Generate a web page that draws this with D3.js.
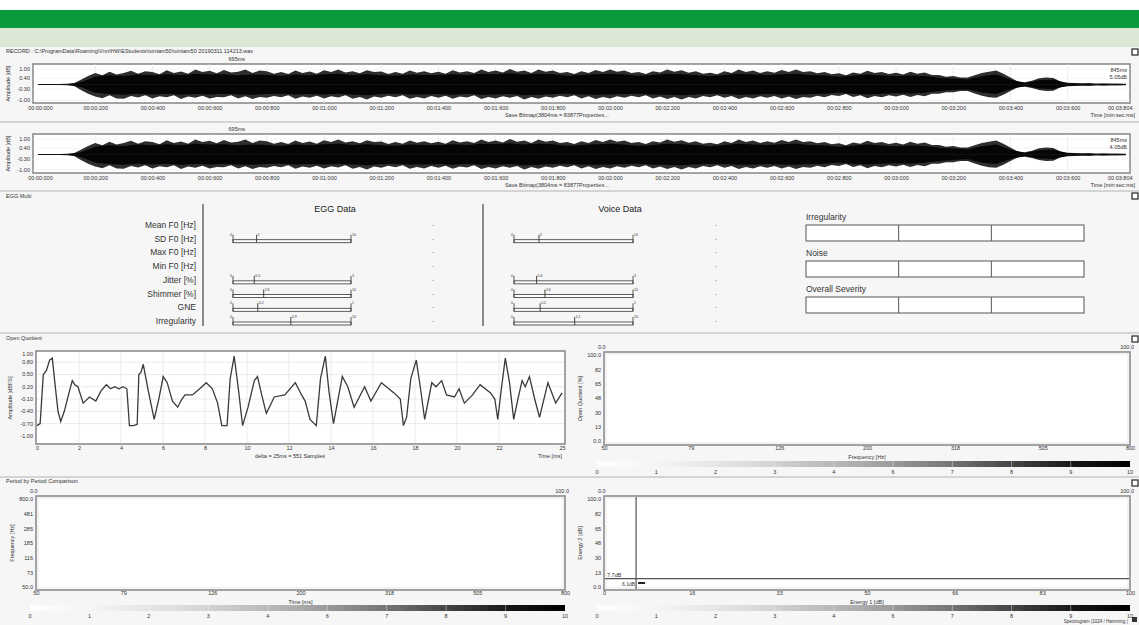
<!DOCTYPE html>
<html><head><meta charset="utf-8">
<script src="https://cdn.jsdelivr.net/npm/d3@7"></script>
<style>
body{margin:0;background:#fff;}
svg{display:block;font-family:"Liberation Sans",Arial,sans-serif;}
</style></head><body>
<svg id="c" width="1139" height="625"></svg>
<script>
// ---------------- DATA ----------------
// waveform envelope, sampled every 25 ms (last sample at 3804 ms)
const waveTimes = d3.range(0, 3801, 25).concat([3804]);
const waveUpper = [0.04,0.03,0.04,0.03,0.05,0.08,
0.3,0.55,0.75,0.6,0.82,0.65,0.74,0.88,0.7,0.85,0.8,0.66,0.92,0.75,0.84,0.7,0.97,0.8,0.88,0.72,0.93,0.78,0.82,0.96,0.75,0.9,0.86,0.7,0.8,0.68,0.9,0.74,0.84,0.7,
0.92,0.8,0.97,0.78,0.86,0.72,0.92,0.8,0.84,0.68,0.8,0.7,0.9,0.76,0.86,0.72,0.82,0.7,0.92,0.78,0.86,0.74,0.97,0.8,0.9,0.78,1.0,0.82,0.9,0.75,0.96,0.82,0.9,0.74,0.8,0.68,0.86,0.74,0.93,0.8,
0.97,0.82,0.9,0.74,0.8,0.68,0.86,0.78,0.96,0.82,0.92,0.76,0.86,0.7,0.76,0.66,0.86,0.74,0.96,0.8,0.9,0.74,0.86,0.76,0.93,0.8,0.96,0.8,0.86,0.72,0.8,0.66,0.72,0.6,0.78,0.7,0.88,0.74,0.8,0.68,
0.76,0.64,0.82,0.7,0.78,0.62,0.62,0.5,0.55,0.45,0.45,0.6,0.75,0.82,0.9,0.7,0.45,0.2,0.15,0.25,0.4,0.45,0.42,0.2,0.12,0.1,0.08,0.09,0.07,0.08,0.06,0.07,0.05,0.05];
const waveLower = [-0.04,-0.03,-0.04,-0.03,-0.05,-0.08,
-0.35,-0.6,-0.78,-0.88,-0.7,-0.9,-0.92,-0.74,-0.84,-0.7,-0.9,-0.76,-0.82,-0.7,-0.93,-0.78,-0.86,-0.72,-0.9,-0.8,-0.82,-0.7,-0.9,-0.76,-0.94,-0.8,-0.86,-0.74,-0.82,-0.7,-0.92,-0.78,-0.86,-0.72,
-0.9,-0.76,-0.84,-0.7,-0.92,-0.8,-0.96,-0.78,-0.86,-0.72,-0.82,-0.7,-0.92,-0.8,-0.9,-0.74,-0.86,-0.72,-0.92,-0.78,-0.84,-0.7,-0.93,-0.8,-0.9,-0.76,-0.86,-0.74,-0.96,-0.8,-0.92,-0.78,-0.86,-0.72,-0.82,-0.7,-0.9,-0.76,-0.93,-0.8,
-0.9,-0.76,-0.86,-0.72,-0.82,-0.7,-0.9,-0.78,-0.93,-0.8,-0.96,-0.8,-0.9,-0.74,-0.82,-0.7,-0.86,-0.74,-0.93,-0.8,-0.9,-0.76,-0.86,-0.74,-0.9,-0.78,-0.93,-0.8,-0.86,-0.72,-0.82,-0.68,-0.74,-0.62,-0.8,-0.7,-0.88,-0.74,-0.82,-0.7,
-0.78,-0.66,-0.8,-0.68,-0.75,-0.6,-0.6,-0.5,-0.5,-0.42,-0.42,-0.58,-0.72,-0.82,-0.86,-0.66,-0.42,-0.18,-0.15,-0.22,-0.36,-0.42,-0.4,-0.18,-0.12,-0.1,-0.08,-0.09,-0.07,-0.08,-0.06,-0.07,-0.05,-0.05];
// dense dark core of the waveform, sampled every 50 ms
const coreTimes = [0,50,100,150,200,250,300,350,400,450,500,550,600,650,700,750,800,850,900,950,1000,1050,1100,1150,1200,1250,1300,1350,1400,1450,1500,1550,1600,1650,1700,1750,1800,1850,1900,1950,2000,2050,2100,2150,2200,2250,2300,2350,2400,2450,2500,2550,2600,2650,2700,2750,2800,2850,2900,2950,3000,3050,3100,3150,3200,3250,3300,3350,3400,3450,3500,3550,3600,3650,3700,3750,3800,3804];
const coreUpper = [0.02,0.02,0.02,0.14,0.5,0.6,0.55,0.64,0.6,0.66,0.6,0.7,0.64,0.66,0.6,0.65,0.62,0.56,0.64,0.6,0.66,0.7,0.62,0.66,0.6,0.56,0.64,0.62,0.6,0.66,0.62,0.7,0.66,0.72,0.64,0.7,0.66,0.56,0.62,0.66,0.7,0.64,0.56,0.62,0.7,0.66,0.62,0.54,0.62,0.7,0.64,0.62,0.66,0.7,0.62,0.58,0.5,0.56,0.64,0.58,0.54,0.58,0.55,0.44,0.38,0.32,0.54,0.64,0.32,0.1,0.27,0.3,0.08,0.05,0.04,0.04,0.03,0.03];
const coreLower = [-0.02,-0.02,-0.02,-0.16,-0.54,-0.62,-0.66,-0.6,-0.64,-0.6,-0.66,-0.62,-0.64,-0.6,-0.64,-0.66,-0.62,-0.6,-0.64,-0.62,-0.64,-0.6,-0.64,-0.7,-0.62,-0.6,-0.64,-0.64,-0.62,-0.66,-0.6,-0.66,-0.64,-0.62,-0.7,-0.66,-0.62,-0.6,-0.64,-0.66,-0.64,-0.62,-0.6,-0.64,-0.66,-0.7,-0.64,-0.6,-0.62,-0.66,-0.64,-0.62,-0.64,-0.66,-0.62,-0.6,-0.52,-0.6,-0.64,-0.6,-0.56,-0.58,-0.54,-0.42,-0.36,-0.3,-0.52,-0.62,-0.3,-0.1,-0.26,-0.29,-0.08,-0.05,-0.04,-0.04,-0.03,-0.03];
const waveTicks = [0,200,400,600,800,1000,1200,1400,1600,1800,2000,2200,2400,2600,2800,3000,3200,3400,3600,3804];
const ampTicks = [1.00,0.40,-0.30,-1.00];
const waveInfo = [{marker:"695ms", end:"845ms", db:"5.05dB"},{marker:"695ms", end:"845ms", db:"4.05dB"}];

const eggRows = ["Mean F0 [Hz]","SD F0 [Hz]","Max F0 [Hz]","Min F0 [Hz]","Jitter [%]","Shimmer [%]","GNE","Irregularity"];
const eggBarMax = [null,"10",null,null,"3","10","1","10"];
const eggMarker = [null,0.20,null,null,0.18,0.26,0.21,0.49];
const eggMarkerLabel = [null,"2",null,null,"0.5","2.6","0.2","4.9"];
const voiceMarker = [null,0.21,null,null,0.19,0.26,0.22,0.51];
const voiceMarkerLabel = [null,"2",null,null,"0.6","2.6","0.2","5.1"];
const gradeBoxes = ["Irregularity","Noise","Overall Severity"];

const oqT = [0,0.15,0.3,0.45,0.6,0.73,0.85,1.0,1.13,1.3,1.5,1.68,1.8,1.95,2.2,2.5,2.8,3.05,3.3,3.5,3.7,3.9,4.1,4.28,4.4,4.6,4.77,4.85,4.95,5.06,5.3,5.58,5.8,6.01,6.2,6.45,6.7,6.9,7.05,7.4,7.75,8.06,8.35,8.6,8.8,9.05,9.2,9.39,9.6,9.79,10.05,10.35,10.5,10.7,10.92,11.3,11.8,12.3,12.6,12.77,13.0,13.3,13.5,13.73,13.9,14.12,14.3,14.54,14.8,15.1,15.6,15.9,16.4,17.0,17.3,17.45,17.6,17.8,18.06,18.25,18.46,18.8,19.0,19.27,19.5,19.88,20.1,20.35,20.74,21.1,21.6,21.8,21.94,22.1,22.3,22.5,22.7,22.9,23.1,23.25,23.45,23.7,23.93,24.33,24.7,25];
const oqA = [-0.75,-0.7,0.5,0.6,0.85,0.9,0.3,-0.4,-0.65,-0.4,0.0,0.35,0.25,0.2,-0.2,-0.05,-0.15,0.1,0.25,0.15,0.2,0.15,0.2,0.15,-0.75,-0.75,-0.72,0.5,0.55,0.75,0.1,-0.6,-0.1,0.45,0.3,-0.15,-0.3,-0.1,0.0,0.0,0.15,0.3,0.15,-0.2,-0.75,-0.75,0.4,0.95,0.1,-0.75,-0.3,0.35,0.45,0.0,-0.45,-0.05,0.0,0.3,0.0,-0.15,-0.6,-0.75,0.4,0.95,0.1,-0.7,-0.2,0.45,0.2,-0.3,0.2,-0.15,0.3,0.05,-0.1,-0.75,-0.55,0.4,0.85,0.2,-0.6,0.3,0.2,0.35,0.0,-0.05,0.15,-0.2,0.0,0.25,0.05,-0.1,-0.6,0.1,0.9,0.3,-0.6,-0.1,0.35,0.2,0.45,-0.1,-0.55,0.3,-0.2,0.05];
const oqXTicks = [0,2,4,6,8,10,12,14,16,18,20,22,25];
const oqYTicks = [1.00,0.80,0.50,0.20,-0.10,-0.40,-0.70,-1.00];

const freqTicks = [50,79,126,200,318,505,800];
const pctTicks = [0,16.7,33.3,50,66.7,83.3,100];
const pctTickLabels = ["0.0","13","30","48","65","82","100.0"];
const periodYTickLabels = ["50.0","73","116","185","285","481","800.0"];
const energyXTickLabels = ["0","16","33","50","66","83","100"];
const colorbarLabels = ["0","1","2","3","4","6","7","8","9","10"];
const energy1Marker = [6.1];
const energy2Marker = [7.7];

// ---------------- DRAW ----------------
const svg = d3.select("#c");
const FONT = "Liberation Sans, Arial, sans-serif";
svg.append("rect").attr("width",1139).attr("height",625).attr("fill","#f6f6f6");
svg.append("rect").attr("width",1139).attr("height",10).attr("fill","#ffffff");
svg.append("rect").attr("y",10).attr("width",1139).attr("height",18).attr("fill","#0a9a3c");
svg.append("rect").attr("y",28).attr("width",1139).attr("height",19).attr("fill","#dce8d6");

function txt(x,y,s,size,anchor,fill,weight){
  return svg.append("text").attr("x",x).attr("y",y).text(s)
    .attr("font-size",size).attr("text-anchor",anchor||"start").attr("fill",fill||"#333")
    .attr("font-weight",weight||"normal");
}
function sep(y){ svg.append("line").attr("x1",0).attr("x2",1139).attr("y1",y).attr("y2",y).attr("stroke","#c8c8c8").attr("stroke-width",1.5); }
function icon(y){ svg.append("rect").attr("x",1132).attr("y",y).attr("width",6).attr("height",6).attr("fill","#fff").attr("stroke","#333").attr("stroke-width",1.3); }

txt(6,53,"RECORD : C:\\ProgramData\\Roaming\\Vnn\\HW\\EStudents\\ivintam50\\ivintam50  20190311  114213.wav",5.5);
icon(49);

function fmtTime(t){
  const s = Math.floor(t/1000), ms = t%1000;
  return "00:"+String(s).padStart(2,"0")+":"+String(ms).padStart(3,"0");
}

function drawWave(top, info){
  const boxTop = top, boxBot = top+39;
  const x = d3.scaleLinear().domain([0,3804]).range([38,1126]);
  const y = d3.scaleLinear().domain([-1,1]).range([boxBot-3,boxTop+5]);
  const g = svg.append("g");
  g.append("rect").attr("x",33).attr("y",boxTop).attr("width",1097).attr("height",boxBot-boxTop)
    .attr("fill","#fff").attr("stroke","#8c8c8c").attr("stroke-width",1.6);
  g.selectAll(".vg").data(waveTicks.slice(1,-1)).join("line")
    .attr("x1",d=>x(d)).attr("x2",d=>x(d)).attr("y1",boxTop).attr("y2",boxBot).attr("stroke","#e4e4e4").attr("stroke-width",0.7);
  g.selectAll(".hg").data(ampTicks).join("line")
    .attr("x1",33).attr("x2",1130).attr("y1",d=>y(d)).attr("y2",d=>y(d)).attr("stroke","#eeeeee").attr("stroke-width",0.6);
  const n = Math.min(waveTimes.length, waveUpper.length, waveLower.length);
  const pts = d3.range(n).map(i=>({t:waveTimes[i],u:waveUpper[i],l:waveLower[i]}));
  const outer = d3.area().x(d=>x(d.t)).y0(d=>y(d.l)).y1(d=>y(d.u));
  const cpts = coreTimes.map((t,i)=>({t:t,u:coreUpper[i],l:coreLower[i]}));
  g.append("path").attr("d",outer(pts)).attr("fill","#2e2e2e");
  g.append("path").attr("d",outer(cpts)).attr("fill","#050505");
  g.append("line").attr("x1",x(0)).attr("x2",x(3804)).attr("y1",y(0)).attr("y2",y(0)).attr("stroke","#111").attr("stroke-width",1);
  g.selectAll(".yl").data(ampTicks).join("text").attr("x",30).attr("y",d=>y(d)+2).attr("text-anchor","end")
    .attr("font-size",5.5).attr("fill","#333").text(d=>d.toFixed(2));
  g.append("text").attr("transform",`translate(10,${(boxTop+boxBot)/2}) rotate(-90)`).attr("text-anchor","middle")
    .attr("font-size",5.5).attr("fill","#333").text("Amplitude [dB]");
  const ax = d3.axisBottom(x).tickValues(waveTicks).tickFormat(fmtTime).tickSize(0).tickPadding(3);
  const ag = g.append("g").attr("transform",`translate(0,${boxBot})`).call(ax);
  ag.select(".domain").remove();
  ag.selectAll("text").attr("font-size",5.5).attr("fill","#333").attr("font-family",FONT);
  ag.selectAll("text").filter(d=>d===3804).attr("text-anchor","end").attr("dx",6);
  ag.selectAll("text").filter(d=>d===0).attr("dx",2);
  g.append("text").attr("x",x(1800)+4).attr("y",boxBot+14).attr("font-size",5.5).attr("fill","#333").attr("text-anchor","middle").text("Save Bitmap(3804ms = 83877Properties...");
  g.append("text").attr("x",1135).attr("y",boxBot+14).attr("font-size",5.5).attr("fill","#333").attr("text-anchor","end").text("Time [min:sec:ms]");
  g.append("text").attr("x",x(695)).attr("y",boxTop-3).attr("font-size",5.5).attr("fill","#333").attr("text-anchor","middle").text(info.marker);
  g.append("text").attr("x",1127).attr("y",boxTop+8).attr("font-size",5.5).attr("fill","#333").attr("text-anchor","end").text(info.end);
  g.append("text").attr("x",1127).attr("y",boxTop+15).attr("font-size",5.5).attr("fill","#333").attr("text-anchor","end").text(info.db);
}
drawWave(64, waveInfo[0]);
sep(122);
drawWave(134, waveInfo[1]);
sep(191);

// ---------------- EGG Multi ----------------
txt(6,198,"EGG Multi",5.5);
icon(193);
txt(335,212,"EGG Data",9,"middle","#222");
txt(620,212,"Voice Data",9,"middle","#222");
const rowY = d3.scalePoint().domain(eggRows).range([225,321]);
svg.selectAll(".rowlab").data(eggRows).join("text").attr("x",196).attr("y",d=>rowY(d)+3)
  .attr("text-anchor","end").attr("font-size",8.5).attr("fill","#333").text(d=>d);
svg.append("line").attr("x1",203).attr("x2",203).attr("y1",204).attr("y2",326).attr("stroke","#444").attr("stroke-width",1.2);
svg.append("line").attr("x1",483).attr("x2",483).attr("y1",204).attr("y2",326).attr("stroke","#444").attr("stroke-width",1.2);

function drawBars(x0,x1,markers,mlabels,dotX){
  const bx = d3.scaleLinear().domain([0,1]).range([x0,x1]);
  eggRows.forEach((r,i)=>{
    const yy = rowY(r);
    svg.append("text").attr("x",dotX).attr("y",yy+2).attr("font-size",6).attr("fill","#555").text("-");
    if(markers[i]==null) return;
    const g = svg.append("g");
    g.append("rect").attr("x",bx(0)).attr("y",yy+1).attr("width",bx(1)-bx(0)).attr("height",3)
      .attr("fill","#fff").attr("stroke","#333").attr("stroke-width",0.8);
    g.append("line").attr("x1",bx(0)).attr("x2",bx(0)).attr("y1",yy-4).attr("y2",yy+4).attr("stroke","#333").attr("stroke-width",0.8);
    g.append("line").attr("x1",bx(1)).attr("x2",bx(1)).attr("y1",yy-4).attr("y2",yy+4).attr("stroke","#333").attr("stroke-width",0.8);
    g.append("line").attr("x1",bx(markers[i])).attr("x2",bx(markers[i])).attr("y1",yy-4).attr("y2",yy+4).attr("stroke","#333").attr("stroke-width",0.9);
    g.append("text").attr("x",bx(0)-1).attr("y",yy-3).attr("font-size",3.5).attr("text-anchor","end").attr("fill","#333").text("0");
    g.append("text").attr("x",bx(1)+1).attr("y",yy-3).attr("font-size",3.5).attr("fill","#333").text(eggBarMax[i]);
    g.append("text").attr("x",bx(markers[i])+1).attr("y",yy-3).attr("font-size",3.5).attr("fill","#333").text(mlabels[i]);
  });
}
drawBars(233,351,eggMarker,eggMarkerLabel,432);
drawBars(514,633,voiceMarker,voiceMarkerLabel,715);

const gradeY = d3.scalePoint().domain(gradeBoxes).range([225,297]);
gradeBoxes.forEach(gname=>{
  const yy = gradeY(gname);
  svg.append("text").attr("x",806).attr("y",yy-5).attr("font-size",8.5).attr("fill","#333").text(gname);
  svg.append("rect").attr("x",806).attr("y",yy).attr("width",278).attr("height",16).attr("fill","#fff").attr("stroke","#555").attr("stroke-width",1);
  [1,2].forEach(k=>svg.append("line").attr("x1",806+k*278/3).attr("x2",806+k*278/3).attr("y1",yy).attr("y2",yy+16).attr("stroke","#555").attr("stroke-width",1));
});
sep(333);

// ---------------- Open Quotient waveform ----------------
txt(6,340,"Open Quotient",5.5);
icon(336);
(function(){
  const x = d3.scaleLinear().domain([0,25]).range([37,562]);
  const y = d3.scaleLinear().domain([-1.2,1.05]).range([444,352]);
  const g = svg.append("g");
  g.append("rect").attr("x",36).attr("y",351).attr("width",529).attr("height",93).attr("fill","#fff").attr("stroke","#8c8c8c").attr("stroke-width",1.6);
  g.selectAll(".vg").data(oqXTicks.slice(1,-1)).join("line").attr("x1",d=>x(d)).attr("x2",d=>x(d)).attr("y1",352).attr("y2",443).attr("stroke","#e2e2e2").attr("stroke-width",0.7);
  g.selectAll(".hg").data(oqYTicks.slice(1,-1)).join("line").attr("x1",37).attr("x2",564).attr("y1",d=>y(d)).attr("y2",d=>y(d)).attr("stroke","#e2e2e2").attr("stroke-width",0.7);
  const line = d3.line().x((d,i)=>x(oqT[i])).y(d=>y(d));
  g.append("path").attr("d",line(oqA)).attr("fill","none").attr("stroke","#3a3a3a").attr("stroke-width",1.3);
  g.selectAll(".yl").data(oqYTicks).join("text").attr("x",33).attr("y",d=>y(d)+2).attr("text-anchor","end").attr("font-size",5.5).attr("fill","#333").text(d=>d.toFixed(2));
  const ax = d3.axisBottom(x).tickValues(oqXTicks).tickSize(0).tickPadding(2).tickFormat(d3.format("d"));
  const ag = g.append("g").attr("transform","translate(0,444)").call(ax);
  ag.select(".domain").remove();
  ag.selectAll("text").attr("font-size",5.5).attr("fill","#333").attr("font-family",FONT);
  g.append("text").attr("transform","translate(12,398) rotate(-90)").attr("text-anchor","middle").attr("font-size",5.5).attr("fill","#333").text("Amplitude [dBFS]");
  g.append("text").attr("x",290).attr("y",458).attr("text-anchor","middle").attr("font-size",5.5).attr("fill","#333").text("delta = 25ms = 551 Samples");
  g.append("text").attr("x",562).attr("y",458).attr("text-anchor","end").attr("font-size",5.5).attr("fill","#333").text("Time [ms]");
})();

// ---------------- generic empty plot ----------------
function emptyPlot(opts){
  const {x0,x1,top,bot,xScale,xTicks,xLabels,yScale,yTicks,yLabels,xTitle,yTitle} = opts;
  const g = svg.append("g");
  g.append("rect").attr("x",x0).attr("y",top).attr("width",x1-x0).attr("height",bot-top).attr("fill","#fff").attr("stroke","#8c8c8c").attr("stroke-width",1.6);
  g.append("rect").attr("x",x0+2).attr("y",top+2).attr("width",x1-x0-4).attr("height",bot-top-4).attr("fill","none").attr("stroke","#d8d8d8").attr("stroke-width",0.6);
  g.append("text").attr("x",x0-6).attr("y",top-3).attr("font-size",5.5).attr("fill","#333").text("0.0");
  g.append("text").attr("x",x1+4).attr("y",top-3).attr("font-size",5.5).attr("text-anchor","end").attr("fill","#333").text("100.0");
  const ax = d3.axisBottom(xScale).tickValues(xTicks).tickSize(0).tickPadding(1).tickFormat((d,i)=>xLabels[i]);
  const ag = g.append("g").attr("transform",`translate(0,${bot})`).call(ax);
  ag.select(".domain").remove();
  ag.selectAll("text").attr("font-size",5.5).attr("fill","#333").attr("font-family",FONT);
  const ay = d3.axisLeft(yScale).tickValues(yTicks).tickSize(0).tickPadding(3).tickFormat((d,i)=>yLabels[i]);
  const ayg = g.append("g").attr("transform",`translate(${x0},0)`).call(ay);
  ayg.select(".domain").remove();
  ayg.selectAll("text").attr("font-size",5.5).attr("fill","#333").attr("font-family",FONT);
  g.append("text").attr("x",(x0+x1)/2).attr("y",bot+14).attr("text-anchor","middle").attr("font-size",5.5).attr("fill","#333").text(xTitle);
  g.append("text").attr("transform",`translate(${x0-22},${(top+bot)/2}) rotate(-90)`).attr("text-anchor","middle").attr("font-size",5.5).attr("fill","#333").text(yTitle);
  return g;
}

// colorbar
const defs = svg.append("defs");
const grad = defs.append("linearGradient").attr("id","cb");
[[0,"#ffffff"],[0.1,"#f6f6f6"],[0.3,"#dadada"],[0.5,"#ababab"],[0.65,"#7a7a7a"],[0.8,"#3c3c3c"],[0.9,"#151515"],[1,"#000000"]]
  .forEach(s=>grad.append("stop").attr("offset",s[0]).attr("stop-color",s[1]));
function colorbar(x0,x1,y){
  const cx = d3.scalePoint().domain(colorbarLabels).range([x0,x1]);
  svg.append("rect").attr("x",x0).attr("y",y).attr("width",x1-x0).attr("height",6).attr("fill","url(#cb)");
  svg.selectAll(null).data(colorbarLabels.slice(1,-1)).join("line").attr("x1",d=>cx(d)).attr("x2",d=>cx(d)).attr("y1",y).attr("y2",y+6).attr("stroke","#fff").attr("stroke-opacity",0.5).attr("stroke-width",0.8);
  svg.selectAll(null).data(colorbarLabels).join("text").attr("x",d=>cx(d)).attr("y",y+13).attr("text-anchor","middle").attr("font-size",5.5).attr("fill","#333").text(d=>d);
}

// top-right OQ vs frequency
const fx = d3.scaleLog().domain([50,800]).range([604,1130]);
const py1 = d3.scaleLinear().domain([0,100]).range([441,355]);
emptyPlot({x0:604,x1:1130,top:352,bot:445,xScale:fx,xTicks:freqTicks,xLabels:freqTicks.map(String),yScale:py1,yTicks:pctTicks,yLabels:pctTickLabels,xTitle:"Frequency [Hz]",yTitle:"Open Quotient [%]"});
colorbar(597,1130,461);
sep(477);

// bottom-left period by period
txt(6,483,"Period by Period Comparison",5.5);
icon(480);
const bx1 = d3.scaleLog().domain([50,800]).range([36,565]);
const by1 = d3.scaleLinear().domain([0,100]).range([587,499]);
emptyPlot({x0:36,x1:565,top:496,bot:590,xScale:bx1,xTicks:freqTicks,xLabels:freqTicks.map(String),yScale:by1,yTicks:pctTicks,yLabels:periodYTickLabels,xTitle:"Time [ms]",yTitle:"Frequency [Hz]"});
colorbar(30,565,605);

// bottom-right energy
const ex = d3.scaleLinear().domain([0,100]).range([604,1130]);
const ey = d3.scaleLinear().domain([0,100]).range([587,499]);
const eg = emptyPlot({x0:604,x1:1130,top:496,bot:590,xScale:ex,xTicks:pctTicks,xLabels:energyXTickLabels,yScale:ey,yTicks:pctTicks,yLabels:pctTickLabels,xTitle:"Energy 1 [dB]",yTitle:"Energy 2 [dB]"});
eg.selectAll(".v").data(energy1Marker).join("line").attr("x1",d=>ex(d)).attr("x2",d=>ex(d)).attr("y1",497).attr("y2",589).attr("stroke","#555").attr("stroke-width",1.2);
eg.selectAll(".h").data(energy2Marker).join("line").attr("x1",605).attr("x2",1129).attr("y1",d=>ey(d)-1.5).attr("y2",d=>ey(d)-1.5).attr("stroke","#555").attr("stroke-width",1.2);
eg.selectAll(".ht").data(energy2Marker).join("text").attr("x",607).attr("y",d=>ey(d)-3.5).attr("font-size",5.5).attr("fill","#333").text(d=>d+"dB");
eg.selectAll(".vt").data(energy1Marker).join("text").attr("x",d=>ex(d)-1).attr("y",586).attr("text-anchor","end").attr("font-size",5).attr("fill","#333").text(d=>d+"dB");
eg.append("rect").attr("x",ex(energy1Marker[0])+2).attr("y",582).attr("width",7).attr("height",2).attr("fill","#222");
colorbar(597,1130,605);
txt(1128,623,"Spectrogram (1024 / Hamming )",4.5,"end","#333");
svg.append("rect").attr("x",1132).attr("y",617).attr("width",5).attr("height",5).attr("fill","#333");
</script>
</body></html>
